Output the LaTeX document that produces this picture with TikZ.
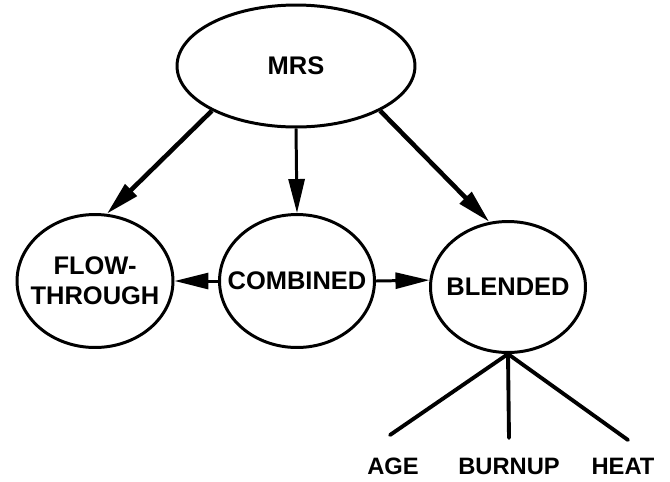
\documentclass[tikz,border=0pt]{standalone}
\usepackage{fontspec}
\setmainfont{Liberation Sans}
\usetikzlibrary{positioning, shapes.geometric}
\usetikzlibrary{arrows.meta}
\tikzstyle{statebox}=[ellipse,line width=1.7pt,draw=black,inner sep=0pt]
\tikzstyle{statetext}=[inner sep=0pt,align=center,
font=\fontsize{14.5}{17}\selectfont\bfseries]
\tikzstyle{leaftext}=[inner sep=0pt,font=\fontsize{13.5}{15}\selectfont\bfseries]
\tikzstyle{edgepath} = [-{Triangle[length=0.68cm,width=0.32cm]},line width=1.7pt]
\tikzstyle{thickedge} = [edgepath,line width=2.6pt]
\tikzstyle{leafline} = [line width=2.2pt,line cap=round]

\begin{document}
\begin{tikzpicture}[x=0.02cm,y=-0.02cm]
    \useasboundingbox (0,0) rectangle (670,481);
    \node[statebox, minimum width=4.76cm, minimum height=2.44cm,
        label={[statetext]center:MRS}] (mrs) at (296,66) {};
    \node[statebox, minimum width=3.12cm, minimum height=2.66cm,
        label={[statetext]center:FLOW-\\THROUGH}] (flow) at (95,281) {};
    \node[statebox, minimum width=3.1cm, minimum height=2.66cm,
        label={[statetext]center:COMBINED}] (comb) at (297,281) {};
    \node[statebox, minimum width=3.1cm, minimum height=2.62cm,
        label={[statetext]center:BLENDED}] (blend) at (508,287) {};

    \path[thickedge]
        (mrs.208) edge node {} (flow.80)
        (mrs.332) edge node {} (blend.106);
    \path[edgepath]
        (mrs.south) edge node {} (comb.north)
        (comb.west) edge node {} (flow.east)
        (comb.east) edge node {} (blend.175);

    % leaves of blended
    \node[leaftext] (age) at (393,466) {AGE};
    \node[leaftext] (burnup) at (509,466) {BURNUP};
    \node[leaftext] (heat) at (623,466) {HEAT};
    \coordinate (ageend) at (390,435);
    \coordinate (burnupend) at (509,438);
    \coordinate (heatend) at (628,440);

    \draw[leafline] (blend.south) -- (ageend);
    \draw[leafline] (blend.south) -- (burnupend);
    \draw[leafline] (blend.south) -- (heatend);
\end{tikzpicture}
\end{document}
